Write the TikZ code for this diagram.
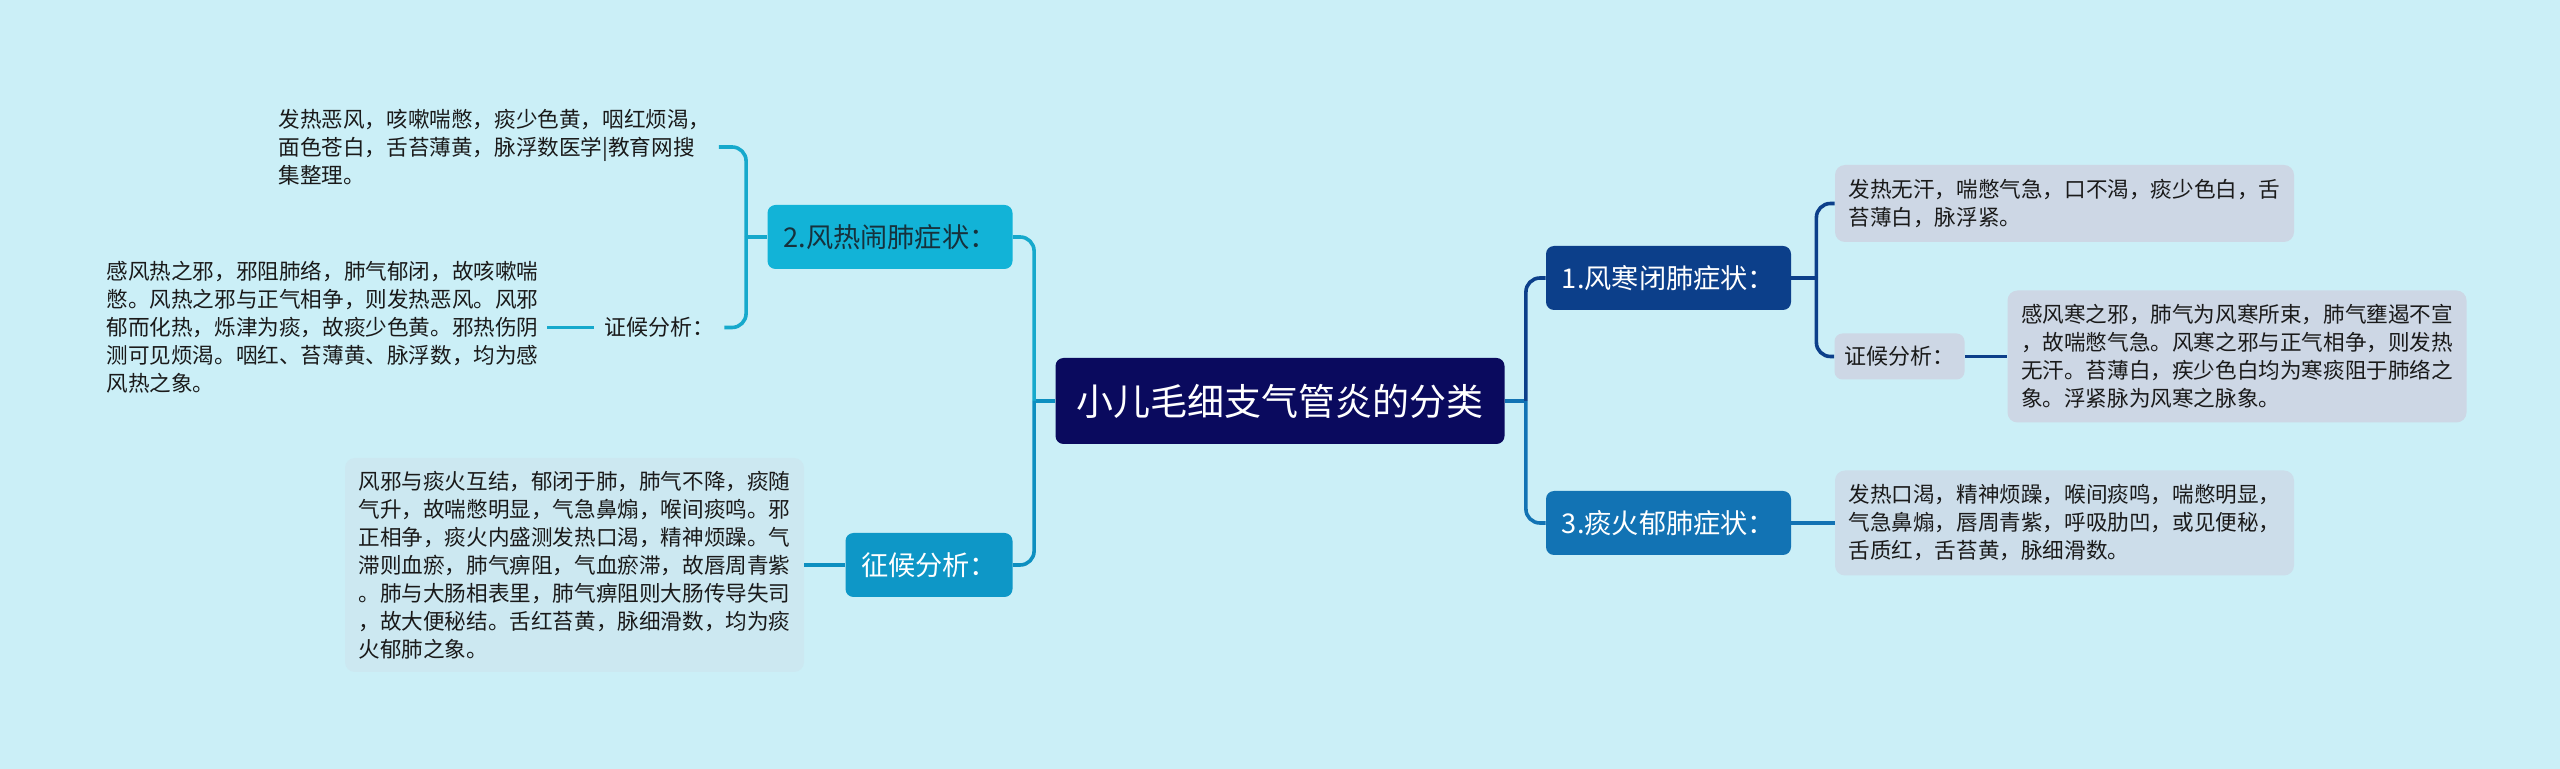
\documentclass[tikz,border=0pt]{standalone}
\usepackage{fontspec}
\setmainfont{Noto Sans CJK SC}
\usetikzlibrary{positioning}

\definecolor{bg}{HTML}{CBEFF7}
\definecolor{navy}{HTML}{0A0A5E}
\definecolor{cyanT}{HTML}{12B3D7}
\definecolor{cyanL}{HTML}{16A9CC}
\definecolor{blueT}{HTML}{0E97C7}
\definecolor{blueL}{HTML}{0D8FC0}
\definecolor{darkT}{HTML}{0C3F8A}
\definecolor{midT}{HTML}{1273B4}
\definecolor{leafA}{HTML}{CDD7E5}
\definecolor{leafB}{HTML}{CCDDEA}
\definecolor{leafC}{HTML}{CCE8F1}
\definecolor{ink}{HTML}{1A1A1A}
\definecolor{inkT}{HTML}{16313C}

\begin{document}
\begin{tikzpicture}[
  x=0.5pt,y=-0.5pt,
  hub/.style={fill=navy,rounded corners=4pt,text=white,inner sep=0pt,
              font=\fontsize{18.5}{22}\selectfont,
              minimum width=224.5pt,minimum height=43pt},
  topic/.style={rounded corners=4pt,text=white,inner sep=0pt,
                font=\fontsize{13.6}{16}\selectfont,
                minimum width=122.5pt,minimum height=32pt},
  leaf/.style={rounded corners=5pt,align=left,text=ink,inner sep=0pt,
               font=\fontsize{10.8}{14}\selectfont,minimum width=229.5pt},
  plain/.style={align=left,text=ink,inner xsep=4pt,
                font=\fontsize{10.8}{14}\selectfont},
  tag/.style={rounded corners=4pt,text=ink,inner xsep=5pt,minimum height=23pt,
              font=\fontsize{11}{14}\selectfont},
  lnk/.style={line width=1.8pt,rounded corners=7pt},
]

\path[fill=bg,use as bounding box] (0,0) rectangle (2560,769);

% ---- centre ----
\node[hub] (hub) at (1280,401) {小儿毛细支气管炎的分类};

% ---- left branches ----
\node[topic,fill=cyanT,text=inkT] (b2) at (890,237) {2.风热闹肺症状：};
\node[topic,fill=blueT,minimum width=83.5pt] (b4) at (929,565) {征候分析：};

\node[plain,anchor=west] (b2a) at (270,147)
     {发热恶风，咳嗽喘憋，痰少色黄，咽红烦渴，\\
      面色苍白，舌苔薄黄，脉浮数医学|教育网搜\\
      集整理。};
\node[tag] (b2bl) at (659,327.5) {证候分析：};
\node[plain,anchor=west] (b2b) at (98,327.5)
     {感风热之邪，邪阻肺络，肺气郁闭，故咳嗽喘\\
      憋。风热之邪与正气相争，则发热恶风。风邪\\
      郁而化热，烁津为痰，故痰少色黄。邪热伤阴\\
      测可见烦渴。咽红、苔薄黄、脉浮数，均为感\\
      风热之象。};

\node[leaf,fill=leafC,minimum height=107pt] (b4t) at (574.5,565)
     {风邪与痰火互结，郁闭于肺，肺气不降，痰随\\
      气升，故喘憋明显，气急鼻煽，喉间痰鸣。邪\\
      正相争，痰火内盛测发热口渴，精神烦躁。气\\
      滞则血瘀，肺气痹阻，气血瘀滞，故唇周青紫\\
      。肺与大肠相表里，肺气痹阻则大肠传导失司\\
      ，故大便秘结。舌红苔黄，脉细滑数，均为痰\\
      火郁肺之象。};

% ---- right branches ----
\node[topic,fill=darkT] (b1) at (1668.5,278) {1.风寒闭肺症状：};
\node[topic,fill=midT] (b3) at (1668.5,523) {3.痰火郁肺症状：};

\node[leaf,fill=leafA,minimum height=38.5pt] (b1a) at (2064.5,203.5)
     {发热无汗，喘憋气急，口不渴，痰少色白，舌\\
      苔薄白，脉浮紧。};
\node[tag,fill=leafA] (b1bl) at (1899.5,356.5) {证候分析：};
\node[leaf,fill=leafA,minimum height=66pt] (b1b) at (2237,356.5)
     {感风寒之邪，肺气为风寒所束，肺气壅遏不宣\\
      ，故喘憋气急。风寒之邪与正气相争，则发热\\
      无汗。苔薄白，疾少色白均为寒痰阻于肺络之\\
      象。浮紧脉为风寒之脉象。};
\node[leaf,fill=leafB,minimum height=52.5pt] (b3a) at (2064.5,523)
     {发热口渴，精神烦躁，喉间痰鸣，喘憋明显，\\
      气急鼻煽，唇周青紫，呼吸肋凹，或见便秘，\\
      舌质红，舌苔黄，脉细滑数。};

% ---- connectors ----
\coordinate (lj) at ([xshift=-10.5pt]hub.west);
\coordinate (rj) at ([xshift=10.5pt]hub.east);
\draw[lnk,draw=blueL] (hub.west) -- (lj);
\draw[lnk,draw=cyanL] (lj) |- (b2.east);
\draw[lnk,draw=blueL] (lj) |- (b4.east);
\draw[lnk,draw=midT] (hub.east) -- (rj);
\draw[lnk,draw=darkT] (rj) |- (b1.west);
\draw[lnk,draw=midT] (rj) |- (b3.west);

\coordinate (j2) at ([xshift=-10.5pt]b2.west);
\draw[lnk,draw=cyanL] (b2.west) -- (j2);
\draw[lnk,draw=cyanL] (j2) |- (b2a.east);
\draw[lnk,draw=cyanL] (j2) |- (b2bl.east);
\draw[lnk,draw=cyanL] (b2bl.west) -- (b2b.east);
\draw[lnk,draw=blueL] (b4.west) -- (b4t.east);

\coordinate (j1) at ([xshift=12.5pt]b1.east);
\draw[lnk,draw=darkT] (b1.east) -- (j1);
\draw[lnk,draw=darkT] (j1) |- (b1a.west);
\draw[lnk,draw=darkT] (j1) |- (b1bl.west);
\draw[lnk,draw=darkT] (b1bl.east) -- (b1b.west);
\draw[lnk,draw=midT] (b3.east) -- (b3a.west);

\end{tikzpicture}
\end{document}
